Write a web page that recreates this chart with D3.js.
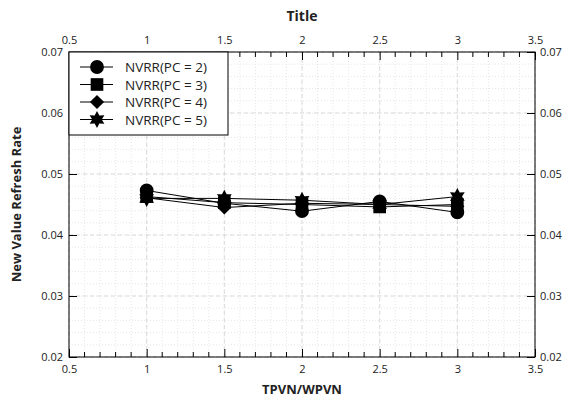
<!DOCTYPE html>
<html>
<head>
<meta charset="utf-8">
<script src="https://cdn.jsdelivr.net/npm/d3@7"></script>
<style>
  body { margin: 0; background: #fff; }
  text { font-family: "Open Sans", "DejaVu Sans", sans-serif; fill: #222; }
</style>
</head>
<body>
<div id="chart"></div>
<script>
  // data
  var xValues = [1, 1.5, 2, 2.5, 3];
  var seriesNames = ['NVRR(PC = 2)', 'NVRR(PC = 3)', 'NVRR(PC = 4)', 'NVRR(PC = 5)'];
  var pc2 = [0.0473, 0.0452, 0.0439, 0.0455, 0.0437];
  var pc3 = [0.0463, 0.0453, 0.0450, 0.0446, 0.0450];
  var pc4 = [0.0461, 0.0445, 0.0452, 0.0450, 0.0447];
  var pc5 = [0.0460, 0.0460, 0.0457, 0.0450, 0.0463];
  var xTicks = [0.5, 1, 1.5, 2, 2.5, 3, 3.5];
  var yTicks = [0.02, 0.03, 0.04, 0.05, 0.06, 0.07];

  var series = [pc2, pc3, pc4, pc5];
  var shapes = ['circle', 'square', 'diamond', 'star'];

  var width = 569, height = 403;
  var margin = { top: 52, right: 34, bottom: 46, left: 69 };
  var w = width - margin.left - margin.right;
  var h = height - margin.top - margin.bottom;

  var svg = d3.select('#chart').append('svg')
    .attr('width', width)
    .attr('height', height);

  var g = svg.append('g')
    .attr('transform', 'translate(' + margin.left + ',' + margin.top + ')');

  var x = d3.scaleLinear().domain([0.5, 3.5]).range([0, w]);
  var y = d3.scaleLinear().domain([0.02, 0.07]).range([h, 0]);

  var xMinor = d3.range(0.5, 3.501, 0.1);
  var yMinor = d3.range(0.02, 0.07001, 0.002);

  // grid: dotted minor, dashed major
  g.append('g').selectAll('line')
    .data(xMinor)
    .enter().append('line')
    .attr('x1', function (d) { return x(d); })
    .attr('x2', function (d) { return x(d); })
    .attr('y1', 0).attr('y2', h)
    .attr('stroke', '#e6e6e6')
    .attr('stroke-dasharray', '1,2');
  g.append('g').selectAll('line')
    .data(yMinor)
    .enter().append('line')
    .attr('y1', function (d) { return y(d); })
    .attr('y2', function (d) { return y(d); })
    .attr('x1', 0).attr('x2', w)
    .attr('stroke', '#e6e6e6')
    .attr('stroke-dasharray', '1,2');
  g.append('g').selectAll('line')
    .data(xTicks)
    .enter().append('line')
    .attr('x1', function (d) { return x(d); })
    .attr('x2', function (d) { return x(d); })
    .attr('y1', 0).attr('y2', h)
    .attr('stroke', '#dadada')
    .attr('stroke-dasharray', '4,3');
  g.append('g').selectAll('line')
    .data(yTicks)
    .enter().append('line')
    .attr('y1', function (d) { return y(d); })
    .attr('y2', function (d) { return y(d); })
    .attr('x1', 0).attr('x2', w)
    .attr('stroke', '#dadada')
    .attr('stroke-dasharray', '4,3');

  // axes, ticks inward on all four sides
  function styleAxis(sel) {
    sel.select('.domain').remove();
    sel.selectAll('.tick line').attr('stroke', '#000');
    sel.selectAll('.tick text').style('font-size', '11px').attr('fill', '#222');
  }
  var fmt = d3.format('');

  g.append('g').attr('transform', 'translate(0,' + h + ')')
    .call(d3.axisBottom(x).tickValues(xTicks).tickFormat(fmt).tickSizeInner(-8).tickPadding(8))
    .call(styleAxis);
  g.append('g')
    .call(d3.axisTop(x).tickValues(xTicks).tickFormat(fmt).tickSizeInner(-8).tickPadding(8))
    .call(styleAxis);
  g.append('g')
    .call(d3.axisLeft(y).tickValues(yTicks).tickFormat(fmt).tickSizeInner(-8).tickPadding(6))
    .call(styleAxis);
  g.append('g').attr('transform', 'translate(' + w + ',0)')
    .call(d3.axisRight(y).tickValues(yTicks).tickFormat(fmt).tickSizeInner(-8).tickPadding(5))
    .call(styleAxis);

  // minor ticks
  var minorX = xMinor.filter(function (d) { return xTicks.indexOf(Math.round(d * 10) / 10) < 0; });
  var minorY = yMinor.filter(function (d) { return yTicks.indexOf(Math.round(d * 100) / 100) < 0; });
  var mt = g.append('g').attr('stroke', '#000');
  minorX.forEach(function (d) {
    mt.append('line').attr('x1', x(d)).attr('x2', x(d)).attr('y1', h).attr('y2', h - 5);
    mt.append('line').attr('x1', x(d)).attr('x2', x(d)).attr('y1', 0).attr('y2', 5);
  });
  minorY.forEach(function (d) {
    mt.append('line').attr('y1', y(d)).attr('y2', y(d)).attr('x1', 0).attr('x2', 5);
    mt.append('line').attr('y1', y(d)).attr('y2', y(d)).attr('x1', w).attr('x2', w - 5);
  });

  g.append('rect')
    .attr('width', w).attr('height', h)
    .attr('fill', 'none').attr('stroke', '#000');

  // markers
  var hexagram = {
    draw: function (ctx, size) {
      var r = Math.sqrt(size) * 0.62, ri = r * 0.55;
      for (var i = 0; i < 12; i++) {
        var a = Math.PI / 6 * i - Math.PI / 2;
        var rr = i % 2 === 0 ? r : ri;
        if (i === 0) ctx.moveTo(rr * Math.cos(a), rr * Math.sin(a));
        else ctx.lineTo(rr * Math.cos(a), rr * Math.sin(a));
      }
      ctx.closePath();
    }
  };
  var rhombus = {
    draw: function (ctx, size) {
      var r = Math.sqrt(size) / 2;
      ctx.moveTo(0, -r);
      ctx.lineTo(r, 0);
      ctx.lineTo(0, r);
      ctx.lineTo(-r, 0);
      ctx.closePath();
    }
  };
  function symbolFor(shape) {
    if (shape === 'circle') return d3.symbol(d3.symbolCircle, 150);
    if (shape === 'square') return d3.symbol(d3.symbolSquare, 160);
    if (shape === 'diamond') return d3.symbol(rhombus, 200);
    return d3.symbol(hexagram, 190);
  }

  var line = d3.line()
    .x(function (d, i) { return x(xValues[i]); })
    .y(function (d) { return y(d); });

  series.forEach(function (s) {
    g.append('path')
      .datum(s)
      .attr('d', line)
      .attr('fill', 'none')
      .attr('stroke', '#000')
      .attr('stroke-width', 1);
  });
  series.forEach(function (s, k) {
    g.append('g').selectAll('path')
      .data(s)
      .enter().append('path')
      .attr('d', symbolFor(shapes[k]))
      .attr('transform', function (d, i) { return 'translate(' + x(xValues[i]) + ',' + y(d) + ')'; })
      .attr('fill', '#000');
  });

  // legend
  var legend = g.append('g');
  legend.append('rect')
    .attr('x', 0).attr('y', 0)
    .attr('width', 159).attr('height', 83)
    .attr('fill', '#fff').attr('stroke', '#000');
  seriesNames.forEach(function (name, k) {
    var ly = 15 + k * 17.5;
    legend.append('line')
      .attr('x1', 11).attr('x2', 44).attr('y1', ly).attr('y2', ly)
      .attr('stroke', '#000');
    legend.append('path')
      .attr('d', symbolFor(shapes[k]))
      .attr('transform', 'translate(28,' + ly + ')')
      .attr('fill', '#000');
    legend.append('text')
      .attr('x', 56).attr('y', ly + 5)
      .style('font-size', '13.5px')
      .text(name);
  });

  // titles
  svg.append('text')
    .attr('x', margin.left + w / 2).attr('y', 21)
    .attr('text-anchor', 'middle')
    .style('font-size', '14px').style('font-weight', 'bold')
    .attr('fill', '#111')
    .text('Title');
  svg.append('text')
    .attr('x', margin.left + w / 2).attr('y', 394)
    .attr('text-anchor', 'middle')
    .style('font-size', '13px').style('font-weight', 'bold')
    .attr('fill', '#111')
    .text('TPVN/WPVN');
  svg.append('text')
    .attr('transform', 'translate(21,' + (margin.top + h / 2) + ') rotate(-90)')
    .attr('text-anchor', 'middle')
    .style('font-size', '13px').style('font-weight', 'bold')
    .attr('fill', '#111')
    .text('New Value Refresh Rate');
</script>
</body>
</html>
